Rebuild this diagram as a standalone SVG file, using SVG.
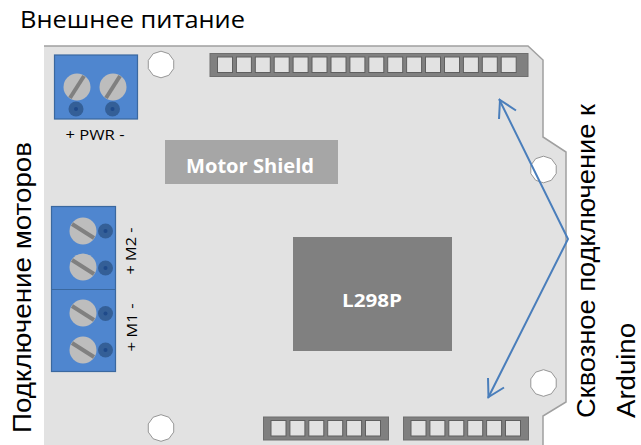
<svg xmlns="http://www.w3.org/2000/svg" width="641" height="445" viewBox="0 0 641 445">
<defs>
<style>
.t{font-family:"Open Sans","Liberation Sans",sans-serif;fill:#000}
.big{font-family:"Liberation Sans",sans-serif;font-size:25.500px;fill:#000}
.small{font-family:"Open Sans","Liberation Sans",sans-serif;font-size:15px;fill:#000}
.hdr{fill:#808080;stroke:#6e6e6e;stroke-width:1}
.cell{fill:#e2e2e2;stroke:#5f5f5f;stroke-width:1}
.blue{fill:#4f86cf;stroke:#3a689f;stroke-width:1.2}
.screw{fill:#bdbdbd}
.slot{stroke:#808080;stroke-width:4;fill:none}
.dot{fill:#345f97}
.dotc{fill:#1f4a8a}
.hole{fill:#fff;stroke:#808080;stroke-width:.8}
.link{stroke:#4a7ebb;stroke-width:2;fill:none}
</style>
<g id="c6"><rect class="cell" x="0" y="0" width="15" height="15.5"/><rect class="cell" x="18.9" y="0" width="15" height="15.5"/><rect class="cell" x="37.8" y="0" width="15" height="15.5"/><rect class="cell" x="56.7" y="0" width="15" height="15.5"/><rect class="cell" x="75.6" y="0" width="15" height="15.5"/><rect class="cell" x="94.5" y="0" width="15" height="15.5"/></g>
<polygon id="oct" points="0,-13.300 7.800,-10.800 12.700,-4.100 12.700,4.100 7.800,10.800 0,13.300 -7.800,10.800 -12.700,4.100 -12.700,-4.100 -7.800,-10.800"/>
</defs>
<rect width="641" height="445" fill="#fff"/>
<g id="board"><path d="M44 445V46H528L543 60V137L566 152V402L543 416V445Z" fill="#e2e2e2"/><path d="M44 46H528L543 60V137L566 152V402L543 416V445" fill="none" stroke="#a0a0a0" stroke-width="1.500"/></g>
<g id="hole-1"><use href="#oct" class="hole" x="161" y="64.500"/></g>
<g id="hole-2"><use href="#oct" class="hole" x="161" y="428"/></g>
<g id="hole-3"><use href="#oct" class="hole" x="543.500" y="169.500"/></g>
<g id="hole-4"><use href="#oct" class="hole" x="543.500" y="383"/></g>
<g id="header-top">
<rect class="hdr" x="210" y="53.500" width="318" height="23"/>
<use href="#c6" x="217.500" y="57"/><use href="#c6" x="331" y="57"/>
<rect class="cell" x="444.500" y="57" width="15" height="15.500"/><rect class="cell" x="463.400" y="57" width="15" height="15.500"/><rect class="cell" x="482.300" y="57" width="15" height="15.500"/><rect class="cell" x="501.200" y="57" width="15" height="15.500"/>
</g>
<g id="header-bottom-1"><rect class="hdr" x="263.500" y="417" width="125" height="23"/><use href="#c6" x="271" y="420.500"/></g>
<g id="header-bottom-2"><rect class="hdr" x="403.500" y="417" width="125" height="23"/><use href="#c6" x="411" y="420.500"/></g>
<g id="pwr-terminal">
<rect class="blue" x="54.500" y="55" width="83" height="64"/>
<circle class="screw" cx="77" cy="87" r="13.500"/><path class="slot" d="M70 98L84 76"/>
<circle class="screw" cx="113" cy="87" r="13.500"/><path class="slot" d="M106 98L120 76"/>
<circle class="dot" cx="76" cy="109" r="7.500"/><circle class="dotc" cx="76" cy="109" r="2"/>
<circle class="dot" cx="112.500" cy="109" r="7.500"/><circle class="dotc" cx="112.500" cy="109" r="2"/>
<text class="small" x="65.500" y="140" textLength="59" lengthAdjust="spacingAndGlyphs">+ PWR -</text>
</g>
<g id="motor-terminal">
<rect class="blue" x="51.500" y="206.500" width="64" height="165"/>
<path d="M51.500 289.500H115.500" stroke="#3a689f" stroke-width="1"/>
<circle class="screw" cx="83" cy="231" r="13.500"/><path class="slot" d="M72 224L94 238"/>
<circle class="screw" cx="83" cy="267" r="13.500"/><path class="slot" d="M72 260L94 274"/>
<circle class="screw" cx="83" cy="313" r="13.500"/><path class="slot" d="M72 306L94 320"/>
<circle class="screw" cx="83" cy="350" r="13.500"/><path class="slot" d="M72 343L94 357"/>
<circle class="dot" cx="105.500" cy="231" r="7.500"/><circle class="dotc" cx="105.500" cy="231" r="2"/>
<circle class="dot" cx="105.500" cy="268" r="7.500"/><circle class="dotc" cx="105.500" cy="268" r="2"/>
<circle class="dot" cx="105.500" cy="313.500" r="7.500"/><circle class="dotc" cx="105.500" cy="313.500" r="2"/>
<circle class="dot" cx="105.500" cy="350" r="7.500"/><circle class="dotc" cx="105.500" cy="350" r="2"/>
<text class="small" transform="translate(135.500 274.500) rotate(-90)" textLength="47" lengthAdjust="spacingAndGlyphs">+ M2 -</text>
<text class="small" transform="translate(137 351.500) rotate(-90)" textLength="48" lengthAdjust="spacingAndGlyphs">+ M1 -</text>
</g>
<g id="motor-shield"><rect x="165" y="140" width="173" height="44" fill="#a6a6a6"/><text x="186" y="173" font-family="'Open Sans','Liberation Sans',sans-serif" font-weight="700" font-size="20" fill="#fff" textLength="128" lengthAdjust="spacingAndGlyphs">Motor Shield</text></g>
<g id="l298p"><rect x="293" y="237" width="159" height="114" fill="#808080"/><text x="342" y="307" font-family="'Open Sans','Liberation Sans',sans-serif" font-weight="700" font-size="18" fill="#fff" textLength="60" lengthAdjust="spacingAndGlyphs">L298P</text></g>
<g id="connectors">
<path class="link" d="M499 99L568 239L488 398"/>
<path class="link" d="M499 119L500 100L516 110.500"/>
<path class="link" d="M488 378L488.500 397L504 387.500"/>
</g>
<g id="labels">
<text class="t" x="20" y="28" font-size="24" textLength="225" lengthAdjust="spacingAndGlyphs">Внешнее питание</text>
<text class="big" transform="translate(30.500 433) rotate(-90)" textLength="291" lengthAdjust="spacingAndGlyphs">Подключение моторов</text>
<text class="big" transform="translate(595 418) rotate(-90)" textLength="314" lengthAdjust="spacingAndGlyphs">Сквозное подключение к</text>
<text class="big" transform="translate(635 418) rotate(-90)" textLength="95" lengthAdjust="spacingAndGlyphs">Arduino</text>
</g>
</svg>
